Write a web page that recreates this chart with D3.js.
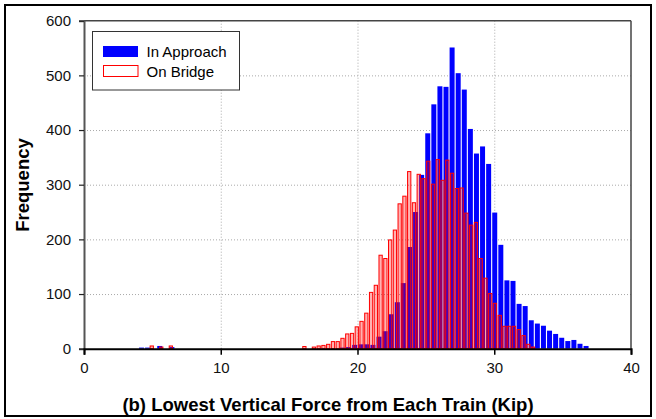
<!DOCTYPE html>
<html>
<head>
<meta charset="utf-8">
<script src="https://cdn.jsdelivr.net/npm/d3@7"></script>
<style>
  body { margin: 0; background: #fff; }
  svg { display: block; font-family: "Liberation Sans", Arial, sans-serif; }
</style>
</head>
<body>
<svg id="chart" width="656" height="419"></svg>
<script>
// histogram counts (kip bins)
const approachBinWidth = 0.4453;
const approachLowStart = 4.02;
const approachLow = [2, 2, 0, 5, 0, 3];
const approachMainStart = 18.72;
const approachMain = [2, 3, 7, 8, 8, 7, 22, 32, 63, 85, 120, 186, 250, 318, 394, 447, 480, 479, 551, 504,
    474, 402, 357, 370, 338, 249, 190, 125, 124, 82, 78, 52, 46, 42, 33, 27, 20, 14, 16, 9, 5];

const bridgeBinWidth = 0.3484;
const bridgeLowStart = 4.80;
const bridgeLow = [5, 0, 3, 0, 5];
const bridgeMainStart = 15.96;
const bridgeMain = [4, 0, 3, 5, 6, 8, 13, 13, 19, 27, 28, 40, 50, 65, 103, 116, 171, 165, 199, 217,
    265, 279, 324, 267, 319, 311, 343, 301, 346, 308, 345, 321, 293, 294, 248, 226, 231, 165, 129, 101,
    83, 61, 41, 41, 41, 35, 24, 8, 3];

const xTicks = [0, 10, 20, 30, 40];
const yTicks = [0, 100, 200, 300, 400, 500, 600];
const seriesNames = ["In Approach", "On Bridge"];

function toBins(start, counts, w) {
    return counts.map((c, i) => ({ x0: start + i * w, x1: start + (i + 1) * w, n: c })).filter(d => d.n > 0);
}
const approach = toBins(approachLowStart, approachLow, approachBinWidth)
    .concat(toBins(approachMainStart, approachMain, approachBinWidth));
const bridge = toBins(bridgeLowStart, bridgeLow, bridgeBinWidth)
    .concat(toBins(bridgeMainStart, bridgeMain, bridgeBinWidth));

const svg = d3.select("#chart");
const pLeft = 84, pRight = 631, pTop = 20.7, pBottom = 348.7;

const x = d3.scaleLinear().domain([0, 40]).range([pLeft, pRight]);
const y = d3.scaleLinear().domain([0, 600]).range([pBottom, pTop]);

// outer frame
svg.append("rect")
    .attr("x", 5).attr("y", 5).attr("width", 646).attr("height", 411)
    .attr("fill", "white").attr("stroke", "black").attr("stroke-width", 2);

// dotted grid
const grid = svg.append("g").attr("stroke", "#aaa").attr("stroke-dasharray", "1,2");
grid.selectAll(".gy").data(yTicks.filter(v => v > 0 && v < 600)).enter()
    .append("line")
    .attr("x1", pLeft).attr("x2", pRight)
    .attr("y1", d => y(d) + 0.5).attr("y2", d => y(d) + 0.5);
grid.selectAll(".gx").data(xTicks.filter(v => v > 0 && v < 40)).enter()
    .append("line")
    .attr("y1", pTop).attr("y2", pBottom)
    .attr("x1", d => x(d) + 0.5).attr("x2", d => x(d) + 0.5);

// blue bars
const bwA = x(approachBinWidth) - x(0);
svg.append("g").selectAll("rect").data(approach).enter()
    .append("rect")
    .attr("x", d => x(d.x0))
    .attr("y", d => y(d.n))
    .attr("width", bwA * 0.82)
    .attr("height", d => y(0) - y(d.n))
    .attr("fill", "#0000ff");

// red outlined bars
const bwB = x(bridgeBinWidth) - x(0);
svg.append("g").selectAll("rect").data(bridge).enter()
    .append("rect")
    .attr("x", d => x(d.x0) + 0.5)
    .attr("y", d => y(d.n))
    .attr("width", bwB - 1.5)
    .attr("height", d => y(0) - y(d.n))
    .attr("fill", "rgba(255,0,0,0.3)")
    .attr("stroke", "#ff0000")
    .attr("stroke-width", 1);

// plot frame
svg.append("line").attr("x1", pLeft).attr("x2", pRight).attr("y1", pTop).attr("y2", pTop)
    .attr("stroke", "#444").attr("stroke-width", 1.5);
svg.append("line").attr("x1", pRight).attr("x2", pRight).attr("y1", pTop).attr("y2", pBottom)
    .attr("stroke", "#444").attr("stroke-width", 1.5);

// axes
const yAxis = svg.append("g")
    .attr("transform", `translate(${pLeft},0)`)
    .call(d3.axisLeft(y).tickValues(yTicks).tickSize(5).tickPadding(8));
yAxis.select(".domain").attr("stroke", "#555").attr("stroke-width", 2);
yAxis.selectAll(".tick line").attr("stroke", "#222").attr("stroke-width", 1.2);

const xAxis = svg.append("g")
    .attr("transform", `translate(0,${pBottom})`)
    .call(d3.axisBottom(x).tickValues(xTicks).tickSize(6).tickPadding(8));
xAxis.select(".domain").attr("stroke", "#000").attr("stroke-width", 2);
xAxis.selectAll(".tick line").attr("stroke", "#000").attr("stroke-width", 1.5);

svg.selectAll(".tick text")
    .attr("font-family", "Liberation Sans, Arial, sans-serif")
    .attr("font-size", 15)
    .attr("fill", "#111");

// axis titles
svg.append("text")
    .attr("transform", "translate(28.5,185) rotate(-90)")
    .attr("text-anchor", "middle")
    .attr("font-size", 18.5).attr("font-weight", "bold")
    .text("Frequency");

svg.append("text")
    .attr("x", 328).attr("y", 410.5)
    .attr("text-anchor", "middle")
    .attr("font-size", 18.5).attr("font-weight", "bold")
    .text("(b) Lowest Vertical Force from Each Train (Kip)");

// legend
const lg = svg.append("g");
lg.append("rect").attr("x", 92.5).attr("y", 31.5).attr("width", 147).attr("height", 58.5)
    .attr("fill", "white").attr("stroke", "#333").attr("stroke-width", 1);
lg.append("rect").attr("x", 103).attr("y", 46).attr("width", 35).attr("height", 11)
    .attr("fill", "#0000ff");
lg.append("rect").attr("x", 103.5).attr("y", 65.5).attr("width", 34.5).attr("height", 11)
    .attr("fill", "white").attr("stroke", "#ff0000").attr("stroke-width", 1);
lg.selectAll(".lt").data(seriesNames).enter()
    .append("text")
    .attr("x", 146.5)
    .attr("y", (d, i) => 57 + i * 19.5)
    .attr("font-size", 15)
    .text(d => d);
</script>
</body>
</html>
